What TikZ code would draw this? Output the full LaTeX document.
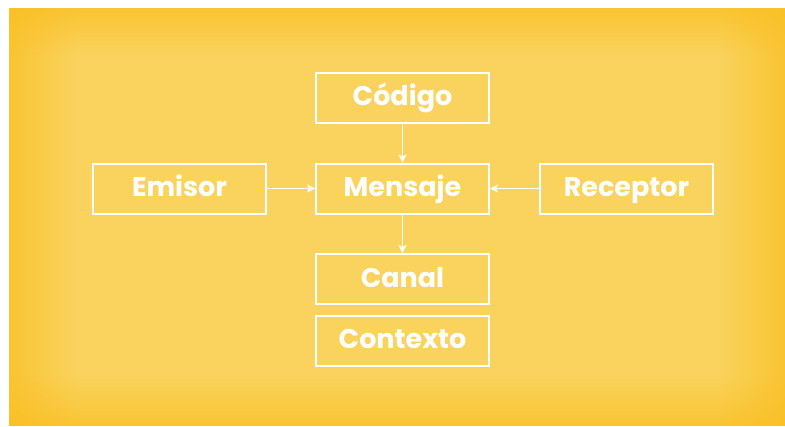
\documentclass[tikz,border=0pt]{standalone}
\usepackage{fontspec}
\setmainfont{Poppins}
\usetikzlibrary{arrows.meta,fadings}
\definecolor{bgin}{RGB}{249,211,94}
\definecolor{bgout}{RGB}{249,192,36}
\tikzset{
  box/.style={draw=white, line width=2pt, minimum width=173pt, minimum height=50pt, inner sep=0pt, text=white, text height=19pt, text depth=3pt, font=\fontsize{27}{32}\selectfont\bfseries},
  link/.style={draw=white, line width=1.2pt, -{Stealth[length=8pt,width=8pt,inset=2pt]}},
  edgeband/.style={fill=bgout, fill opacity=0.75}
}
\begin{document}
\begin{tikzpicture}[x=1pt,y=-1pt]
\useasboundingbox (0,0) rectangle (785,426);
\fill[white] (0,0) rectangle (785,426);
\fill[bgin] (9,8) rectangle (785,426);
\fill[edgeband, path fading=east] (9,8) rectangle (75,426);
\fill[edgeband, path fading=west] (720,8) rectangle (785,426);
\fill[edgeband, path fading=south] (9,8) rectangle (785,55);
\fill[edgeband, path fading=north] (9,375) rectangle (785,426);
\node[box] (codigo) at (402.5,97.5) {Código};
\node[box] (mensaje) at (402.5,188.5) {Mensaje};
\node[box] (emisor) at (179.5,188.5) {Emisor};
\node[box] (receptor) at (626.5,188.5) {Receptor};
\node[box] (canal) at (402.5,279) {Canal};
\node[box] (contexto) at (402.5,340.5) {Contexto};
\draw[link] (codigo) -- (mensaje);
\draw[link] (emisor) -- (mensaje);
\draw[link] (receptor) -- (mensaje);
\draw[link] (mensaje) -- (canal);
\end{tikzpicture}
\end{document}
